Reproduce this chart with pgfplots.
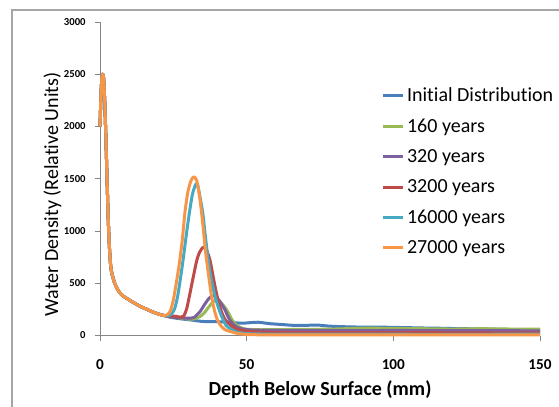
\documentclass[border=0pt]{standalone}
\usepackage{fontspec}
\setmainfont{Carlito}[Ligatures={NoCommon}]
\usepackage{pgfplots}
\pgfplotsset{compat=1.18}
\definecolor{cBlue}{HTML}{4A7EBB}
\definecolor{cGreen}{HTML}{98B954}
\definecolor{cPurple}{HTML}{7D60A0}
\definecolor{cRed}{HTML}{BE4B48}
\definecolor{cCyan}{HTML}{46AAC5}
\definecolor{cOrange}{HTML}{F79646}
\definecolor{axgray}{HTML}{868686}
\definecolor{framegray}{HTML}{A6A6A6}
\begin{document}
\begin{tikzpicture}
\path[use as bounding box] (0pt,0pt) rectangle (419.25pt,304.5pt);
\draw[framegray, line width=0.9pt] (9pt,-10pt) -- (9pt,297pt) -- (430pt,297pt);
\begin{axis}[
  at={(75pt,52.875pt)}, anchor=south west,
  scale only axis, width=330pt, height=235.1pt,
  xmin=0, xmax=150, ymin=0, ymax=3000,
  axis x line=bottom, axis y line=left,
  axis line style={axgray, line width=0.75pt, -},
  xtick={0,50,100,150}, ytick={0,500,1000,1500,2000,2500,3000},
  tick style={axgray, line width=0.75pt},
  tick align=outside, major tick length=3.75pt,
  /pgf/number format/assume math mode=true,
  /pgf/number format/1000 sep={},
  xticklabel style={font=\fontsize{11.4}{13}\selectfont\bfseries, yshift=-11pt},
  yticklabel style={font=\fontsize{8}{10}\selectfont\bfseries, xshift=-3.5pt},
  xlabel={Depth Below Surface (mm)},
  xlabel style={font=\fontsize{15}{18}\selectfont\bfseries, at={(axis description cs:0.5,-0.174)}, anchor=center},
  ylabel={Water Density (Relative Units)},
  ylabel style={font=\fontsize{15}{18}\selectfont, at={(axis description cs:-0.108,0.45)}, anchor=center, rotate=0},
  legend style={at={(axis description cs:0.639,0.799)}, anchor=north west, draw=none, fill=none,
    font=\fontsize{15}{18}\selectfont, row sep=7.3pt, inner sep=0pt},
  legend cell align=left,
  legend image code/.code={\draw[#1] (0pt,0pt) -- (15pt,0pt);},
  every axis plot/.append style={line width=2.25pt, smooth, tension=0.4, line join=round},
  clip=false,
]
\addplot[cBlue] coordinates {
(0,2000) (0.4,2350) (0.8,2500) (1.2,2470) (1.6,2250) (2,1900) (2.4,1500) (2.8,1120) (3.2,850) (3.6,680) (4,600) (5,500) (6,440) (7,400) (8,375) (10,340) (12,305) (14,275) (16,250) (18,225) (20,205) (22,190)
(24,175) (26,165) (28,158) (30,152) (32,145) (34,137) (36,133) (38,132) (40,132) (42,130) (44,127) (46,122) (48,118) (50,120) (52,125) (54,127) (56,120) (58,113) (62,105) (66,97) (70,97) (74,100) (78,90) (82,85) (86,82) (90,80) (95,80) (100,78) (105,75) (110,72) (115,70) (120,67) (127,64) (135,60) (142,55) (150,52)
};
\addlegendentry{Initial Distribution}
\addplot[cGreen] coordinates {
(0,2000) (0.4,2350) (0.8,2500) (1.2,2470) (1.6,2250) (2,1900) (2.4,1500) (2.8,1120) (3.2,850) (3.6,680) (4,600) (5,500) (6,440) (7,400) (8,375) (10,340) (12,305) (14,275) (16,250) (18,225) (20,205) (22,190)
(24,180) (26,172) (28,165) (30,158) (32,158) (34,180) (35.5,215) (37,270) (38.5,320) (39.5,340) (40.5,335) (42,290) (43.5,230) (45,150) (46.5,100) (48,75) (50,60) (55,55) (60,57) (70,58) (80,62) (90,70) (100,68) (110,65) (120,62) (130,65) (140,62) (150,60)
};
\addlegendentry{160 years}
\addplot[cPurple] coordinates {
(0,2000) (0.4,2350) (0.8,2500) (1.2,2470) (1.6,2250) (2,1900) (2.4,1500) (2.8,1120) (3.2,850) (3.6,680) (4,600) (5,500) (6,440) (7,400) (8,375) (10,340) (12,305) (14,275) (16,250) (18,225) (20,205) (22,190)
(24,178) (26,172) (28,168) (30,165) (32,172) (34,225) (35.5,290) (37,350) (38.3,380) (39.5,372) (41,320) (42.5,250) (44,160) (45.5,105) (47,75) (49,60) (52,52) (60,48) (80,47) (100,48) (120,47) (150,45)
};
\addlegendentry{320 years}
\addplot[cRed] coordinates {
(0,2000) (0.4,2350) (0.8,2500) (1.2,2470) (1.6,2250) (2,1900) (2.4,1500) (2.8,1120) (3.2,850) (3.6,680) (4,600) (5,500) (6,440) (7,400) (8,375) (10,340) (12,305) (14,275) (16,250) (18,225) (20,205) (22,190)
(24,188) (26,183) (27.5,175) (28.5,185) (29.5,250) (30.5,380) (31.8,560) (33,720) (34,800) (35.2,845) (36.3,820) (37.5,720) (38.6,560) (39.5,430) (40.5,310) (41.5,220) (42.6,155) (44,110) (45.5,78) (47,58) (50,42) (55,32) (70,28) (100,27) (150,25)
};
\addlegendentry{3200 years}
\addplot[cCyan] coordinates {
(0,2000) (0.4,2350) (0.8,2500) (1.2,2470) (1.6,2250) (2,1900) (2.4,1500) (2.8,1120) (3.2,850) (3.6,680) (4,600) (5,500) (6,440) (7,400) (8,375) (10,340) (12,305) (14,275) (16,250) (18,225) (20,205) (22,190)
(23.5,190) (24.5,210) (25.5,260) (26.5,380) (27.5,560) (28.5,760) (29.5,980) (30.5,1180) (31.5,1350) (32.5,1440) (33.2,1450) (34,1340) (35,1180) (36,930) (37,700) (38,530) (39,400) (40,300) (41,215) (42,150) (43,95) (45,55) (47,30) (50,18) (60,13) (100,12) (150,12)
};
\addlegendentry{16000 years}
\addplot[cOrange] coordinates {
(0,2000) (0.4,2350) (0.8,2500) (1.2,2470) (1.6,2250) (2,1900) (2.4,1500) (2.8,1120) (3.2,850) (3.6,680) (4,600) (5,500) (6,440) (7,400) (8,375) (10,340) (12,305) (14,275) (16,250) (18,225) (20,205) (21,195)
(22,190) (23,200) (24,235) (25,340) (26,500) (27,680) (28,900) (29,1190) (30,1380) (31,1480) (32,1520) (33,1480) (34,1320) (35,1080) (36,800) (37,580) (38,380) (39,240) (40,150) (41,100) (42,70) (43,50) (44.3,40) (46,25) (48,15) (52,8) (60,6) (100,6) (150,6)
};
\addlegendentry{27000 years}
\end{axis}
\end{tikzpicture}
\end{document}
